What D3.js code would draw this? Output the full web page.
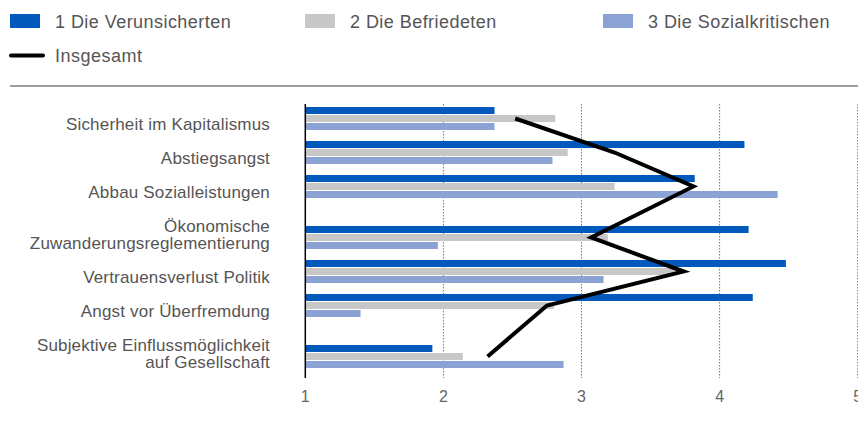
<!DOCTYPE html>
<html><head><meta charset="utf-8">
<script src="https://cdn.jsdelivr.net/npm/d3@7"></script>
<style>
body{margin:0;background:#fff;}
svg{display:block;font-family:"Liberation Sans",Arial,sans-serif;}
</style></head>
<body><svg id="c" width="858" height="425"></svg>
<script>
const categories = [
  ["Sicherheit im Kapitalismus"],
  ["Abstiegsangst"],
  ["Abbau Sozialleistungen"],
  ["Ökonomische","Zuwanderungsreglementierung"],
  ["Vertrauensverlust Politik"],
  ["Angst vor Überfremdung"],
  ["Subjektive Einflussmöglichkeit","auf Gesellschaft"]
];
const seriesNames = ["1 Die Verunsicherten","2 Die Befriedeten","3 Die Sozialkritischen"];
const verunsicherten = [2.37, 4.18, 3.82, 4.21, 4.48, 4.24, 1.92];
const befriedeten    = [2.81, 2.90, 3.24, 3.19, 3.68, 2.80, 2.14];
const sozialkritisch = [2.37, 2.79, 4.42, 1.96, 3.16, 1.40, 2.87];
const insgesamt      = [2.52, 3.24, 3.81, 3.07, 3.74, 2.75, 2.32];
const lineName = "Insgesamt";
const xTicks = [1,2,3,4,5];
const colors = ["#0059bb","#c6c7c6","#8ba3d4"];
const series = [verunsicherten, befriedeten, sozialkritisch];

const svg = d3.select("#c");
const x = d3.scaleLinear().domain([1,5]).range([305.3,857.7]);

let acc = 0;
const slotPos = categories.map(c => { acc += (c.length-1)*0.5; const p = acc; acc += 1; return p; });
const yCat = d3.scaleLinear().domain([0,1]).range([107,141]);
const inner = d3.scaleBand().domain([0,1,2]).range([0,24]).paddingInner(0.0);
const barH = 7;

const leg = svg.append("g");
const lx = [10,305,603];
seriesNames.forEach((n,i)=>{
  leg.append("rect").attr("x",lx[i]).attr("y",14).attr("width",30).attr("height",14).attr("fill",colors[i]);
  leg.append("text").attr("x",lx[i]+45).attr("y",27.5).attr("font-size",18).attr("letter-spacing",0.45).attr("fill","#555").text(n);
});
leg.append("line").attr("x1",11).attr("x2",43).attr("y1",55.5).attr("y2",55.5).attr("stroke","#000").attr("stroke-width",4).attr("stroke-linecap","round");
leg.append("text").attr("x",55).attr("y",61.7).attr("font-size",18).attr("letter-spacing",0.5).attr("fill","#555").text(lineName);

svg.append("line").attr("x1",10).attr("x2",858).attr("y1",86).attr("y2",86).attr("stroke","#7d7d7d").attr("stroke-width",1.6);

const plotTop = 104, plotBottom = 378;
svg.append("g").selectAll("line").data(xTicks.slice(1)).join("line")
  .attr("x1",d=>x(d)).attr("x2",d=>x(d)).attr("y1",plotTop).attr("y2",plotBottom)
  .attr("stroke","#777").attr("stroke-width",1).attr("stroke-dasharray","1.5,1.5");

series.forEach((vals,s)=>{
  svg.append("g").selectAll("rect").data(vals).join("rect")
    .attr("x",x(1)).attr("y",(d,i)=>yCat(slotPos[i])+inner(s))
    .attr("width",d=>x(d)-x(1)).attr("height",barH).attr("fill",colors[s]);
});

svg.append("line").attr("x1",x(1)).attr("x2",x(1)).attr("y1",plotTop).attr("y2",plotBottom).attr("stroke","#000").attr("stroke-width",1.5);

const line = d3.line().x(d=>x(d[0])).y(d=>d[1]);
svg.append("path").datum(insgesamt.map((v,i)=>[v, yCat(slotPos[i])+inner(1)+barH/2]))
  .attr("d",line).attr("fill","none").attr("stroke","#000").attr("stroke-width",4).attr("stroke-linejoin","miter");

categories.forEach((lines,i)=>{
  const cy = yCat(slotPos[i]) + 12;
  const t = svg.append("text").attr("x",270).attr("text-anchor","end").attr("font-size",17).attr("letter-spacing",0.18).attr("fill","#555");
  const n = lines.length;
  lines.forEach((l,j)=>{
    t.append("tspan").attr("x",270).attr("y",cy + 11 - (n-1-j)*16.7).text(l);
  });
});

svg.append("g").selectAll("text").data(xTicks).join("text")
  .attr("x",d=>x(d)).attr("y",402).attr("text-anchor","middle").attr("font-size",16).attr("fill","#666").text(d=>d);
</script></body></html>
